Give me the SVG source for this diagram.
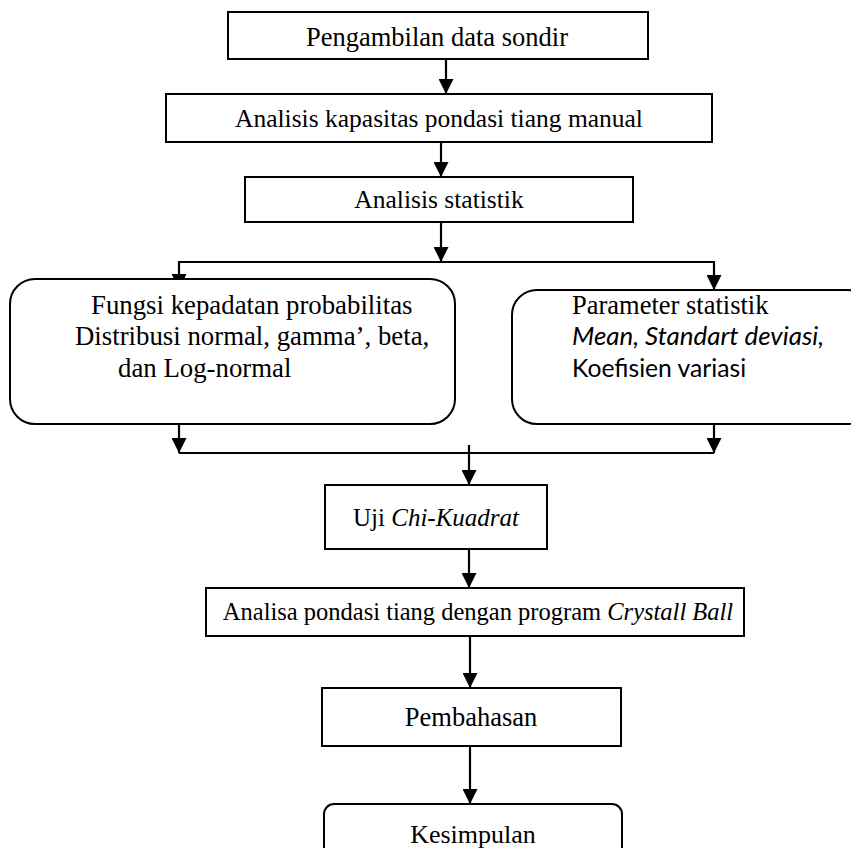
<svg xmlns="http://www.w3.org/2000/svg" width="851" height="848" viewBox="0 0 851 848">
<defs>
<style>
.box{fill:#fff;stroke:#000;stroke-width:2}
.t{font-family:"Liberation Serif","Times New Roman",serif;fill:#000}
.c{text-anchor:middle}
.s{font-family:Lato,"Liberation Sans",sans-serif;fill:#000}
.ln{fill:none;stroke:#000;stroke-width:2.2}
</style>
<marker id="ah" viewBox="0 0 15 15" refX="15" refY="7.5" markerWidth="15" markerHeight="15" markerUnits="userSpaceOnUse" orient="auto">
<path d="M0,0 L15,7.5 L0,15 z" fill="#000"/>
</marker>
</defs>
<rect width="851" height="848" fill="#fff"/>
<g id="connectors">
<line class="ln" x1="446" y1="59" x2="446" y2="94" marker-end="url(#ah)"/>
<line class="ln" x1="441" y1="142" x2="441" y2="177" marker-end="url(#ah)"/>
<line class="ln" x1="441" y1="222" x2="441" y2="262" marker-end="url(#ah)"/>
<line class="ln" x1="178" y1="262" x2="715" y2="262"/>
<line class="ln" x1="179" y1="261" x2="179" y2="289" marker-end="url(#ah)"/>
<line class="ln" x1="714" y1="261" x2="714" y2="290" marker-end="url(#ah)"/>
<line class="ln" x1="179" y1="424" x2="179" y2="453" marker-end="url(#ah)"/>
<line class="ln" x1="714" y1="424" x2="714" y2="453" marker-end="url(#ah)"/>
<line class="ln" x1="179" y1="453" x2="714" y2="453"/>
<line class="ln" x1="469" y1="445" x2="469" y2="485" marker-end="url(#ah)"/>
<line class="ln" x1="469" y1="549" x2="469" y2="588" marker-end="url(#ah)"/>
<line class="ln" x1="470" y1="636" x2="470" y2="688" marker-end="url(#ah)"/>
<line class="ln" x1="470" y1="746" x2="470" y2="804" marker-end="url(#ah)"/>
</g>
<g id="n1"><rect class="box" x="228" y="12" width="420" height="47"/><text class="t c" x="437" y="46" style="font-size:26.5px">Pengambilan data sondir</text></g>
<g id="n2"><rect class="box" x="166" y="94" width="546" height="48"/><text class="t c" x="439" y="127" style="font-size:25.5px">Analisis kapasitas pondasi tiang manual</text></g>
<g id="n3"><rect class="box" x="245" y="177" width="388" height="45"/><text class="t c" x="439" y="208" style="font-size:25.5px">Analisis statistik</text></g>
<g id="n4"><rect class="box" x="10" y="279" width="445" height="145" rx="25"/>
<text class="t" x="91" y="314" style="font-size:26.8px">Fungsi kepadatan probabilitas</text>
<text class="t" x="75" y="345" style="font-size:26.8px">Distribusi normal, gamma’, beta,</text>
<text class="t" x="118" y="377" style="font-size:26.8px">dan Log-normal</text></g>
<g id="n5"><rect class="box" x="512" y="290" width="360" height="134" rx="25"/>
<text class="t" x="572" y="314" style="font-size:26.5px">Parameter statistik</text>
<text class="s" x="572" y="345" style="font-size:24.7px;font-style:italic" textLength="252" lengthAdjust="spacingAndGlyphs">Mean, Standart deviasi,</text>
<text class="s" x="572" y="377" style="font-size:24.7px">Koefisien variasi</text></g>
<g id="n6"><rect class="box" x="325" y="485" width="222" height="64"/><text class="t c" x="436" y="526" style="font-size:25px">Uji <tspan style="font-style:italic">Chi-Kuadrat</tspan></text></g>
<g id="n7"><rect class="box" x="206" y="588" width="538" height="48"/><text class="t c" x="478" y="620" style="font-size:24.5px">Analisa pondasi tiang dengan program <tspan style="font-style:italic">Crystall Ball</tspan></text></g>
<g id="n8"><rect class="box" x="322" y="688" width="299" height="58"/><text class="t c" x="471" y="726" style="font-size:26.5px">Pembahasan</text></g>
<g id="n9"><rect class="box" x="324" y="804" width="298" height="80" rx="10"/><text class="t c" x="473" y="843" style="font-size:26px">Kesimpulan</text></g>
</svg>
